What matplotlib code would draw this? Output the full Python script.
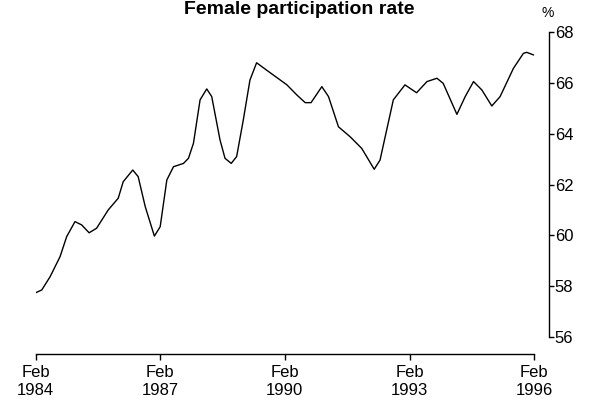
import matplotlib.pyplot as plt

plt.rcParams['font.family'] = ['Liberation Sans', 'DejaVu Sans']

# years since Feb 1984 and participation rate (%)
years = [0.00, 0.15, 0.35, 0.59, 0.75, 0.95, 1.11, 1.29, 1.47, 1.75, 1.99, 2.11,
         2.34, 2.47, 2.64, 2.86, 3.00, 3.16, 3.32, 3.56, 3.68, 3.80, 3.96, 4.12,
         4.24, 4.44, 4.56, 4.71, 4.84, 5.00, 5.16, 5.32, 5.56, 6.05, 6.29, 6.49,
         6.63, 6.89, 7.05, 7.29, 7.57, 7.85, 8.15, 8.29, 8.61, 8.89, 9.17, 9.42,
         9.66, 9.81, 10.14, 10.34, 10.54, 10.74, 10.98, 11.18, 11.50, 11.74, 11.82, 11.98]
rate = [57.74, 57.85, 58.37, 59.16, 59.95, 60.54, 60.41, 60.10, 60.28, 61.00, 61.46, 62.11,
        62.57, 62.31, 61.13, 59.97, 60.34, 62.18, 62.70, 62.83, 63.03, 63.62, 65.33, 65.76,
        65.46, 63.75, 63.03, 62.83, 63.10, 64.54, 66.11, 66.79, 66.50, 65.92, 65.52, 65.22,
        65.22, 65.85, 65.46, 64.27, 63.88, 63.42, 62.60, 62.96, 65.33, 65.92, 65.61, 66.05,
        66.18, 65.98, 64.76, 65.46, 66.05, 65.72, 65.09, 65.46, 66.57, 67.16, 67.20, 67.10]

xticks = [0, 3, 6, 9, 12]
xlabels = ['Feb\n1984', 'Feb\n1987', 'Feb\n1990', 'Feb\n1993', 'Feb\n1996']
yticks = [56, 58, 60, 62, 64, 66, 68]

fig = plt.figure(figsize=(5.99, 4.01), dpi=100)
ax = fig.add_axes([0.0593, 0.1596, 0.8568, 0.7606])

ax.plot(years, rate, color='black', linewidth=1.0)

ax.set_xlim(0, 12.35)
ax.set_ylim(56, 68)

for side in ['top', 'left']:
    ax.spines[side].set_visible(False)
ax.spines['bottom'].set_position(('outward', 12))
ax.spines['bottom'].set_bounds(0, 12)
ax.spines['right'].set_linewidth(1.0)
ax.spines['bottom'].set_linewidth(1.0)

ax.set_xticks(xticks)
ax.set_xticklabels(xlabels, fontsize=12, linespacing=1.25)
ax.tick_params(axis='x', direction='out', length=4.3, width=1.0, pad=4)

ax.yaxis.tick_right()
ax.set_yticks(yticks)
ax.set_yticklabels([str(v) for v in yticks], fontsize=12)
ax.tick_params(axis='y', direction='out', length=3.4, width=1.0, pad=1)

fig.text(0.5, 0.997, 'Female participation rate', ha='center', va='top',
         fontsize=14, fontweight='bold')
fig.text(548 / 599, 1 - 13 / 401, '%', ha='center', va='center', fontsize=10)

fig.savefig('out.png', dpi=100)
